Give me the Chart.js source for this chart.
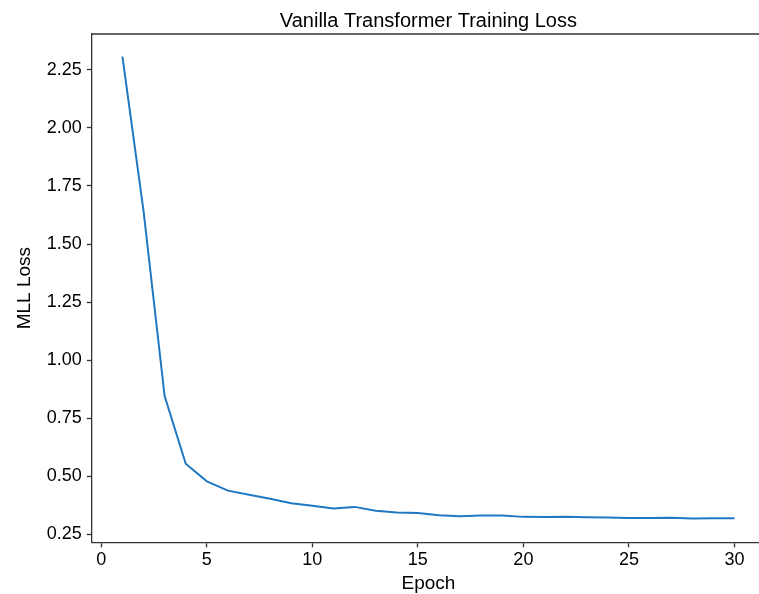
<!DOCTYPE html>
<html lang="en">
  <head>
    <meta charset="UTF-8" />
    <title>Vanilla Transformer Training Loss</title>
    <script src="https://cdn.jsdelivr.net/npm/chart.js"></script>
    <style>
      html, body { margin: 0; padding: 0; background: #fff; overflow: hidden; }
      #wrap { width: 765px; height: 594px; }
    </style>
  </head>
  <body>
    <div id="wrap"><canvas id="lossChart"></canvas></div>

    <script>
      // data
      const epochs = [1, 2, 3, 4, 5, 6, 7, 8, 9, 10, 11, 12, 13, 14, 15,
        16, 17, 18, 19, 20, 21, 22, 23, 24, 25, 26, 27, 28, 29, 30];
      const loss = [2.307, 1.643, 0.845, 0.554, 0.478, 0.438, 0.420, 0.403, 0.384, 0.373,
        0.361, 0.368, 0.351, 0.344, 0.342, 0.332, 0.328, 0.331, 0.331, 0.325,
        0.324, 0.325, 0.323, 0.322, 0.320, 0.320, 0.321, 0.318, 0.319, 0.319];
      const xTicks = [0, 5, 10, 15, 20, 25, 30];
      const yTicks = [0.25, 0.5, 0.75, 1.0, 1.25, 1.5, 1.75, 2.0, 2.25];

      const FONT = "'Liberation Sans', Arial, sans-serif";
      const AXIS = '#333333';

      // title centred over the plot box, plus the top spine
      const frame = {
        id: 'frame',
        afterDraw(chart) {
          const { ctx, chartArea } = chart;
          ctx.save();
          ctx.strokeStyle = AXIS;
          ctx.lineWidth = 1.3;
          ctx.beginPath();
          ctx.moveTo(chartArea.left, chartArea.top);
          ctx.lineTo(chartArea.right, chartArea.top);
          ctx.stroke();
          ctx.fillStyle = '#000';
          ctx.font = '20px ' + FONT;
          ctx.textAlign = 'center';
          ctx.textBaseline = 'alphabetic';
          ctx.fillText('Vanilla Transformer Training Loss',
            (chartArea.left + chartArea.right) / 2, 27);
          ctx.restore();
        },
      };

      const ctx = document.getElementById('lossChart').getContext('2d');
      const lossChart = new Chart(ctx, {
        type: 'line',
        data: {
          datasets: [
            {
              label: 'Loss',
              data: epochs.map((e, i) => ({ x: e, y: loss[i] })),
              borderColor: '#1f78c1',
              borderWidth: 2,
              pointRadius: 0,
              tension: 0,
              fill: false,
            },
          ],
        },
        options: {
          responsive: true,
          maintainAspectRatio: false,
          animation: false,
          layout: { padding: { top: 34, left: 3, right: 0, bottom: 0 } },
          plugins: {
            legend: { display: false },
            tooltip: { enabled: false },
          },
          scales: {
            x: {
              type: 'linear',
              min: -0.45,
              max: 31.45,
              afterBuildTicks: (axis) => { axis.ticks = xTicks.map((v) => ({ value: v })); },
              grid: { drawOnChartArea: false, drawTicks: true, tickLength: 5, color: AXIS, tickWidth: 1.3 },
              border: { display: true, color: AXIS, width: 1.3 },
              ticks: { color: '#000', font: { family: FONT, size: 18, lineHeight: 1.1 }, padding: 3, maxRotation: 0 },
              title: { display: true, text: 'Epoch', color: '#000', font: { family: FONT, size: 19, lineHeight: 1.1 }, padding: { top: 0, bottom: 0 } },
            },
            y: {
              min: 0.2155,
              max: 2.4045,
              afterBuildTicks: (axis) => { axis.ticks = yTicks.map((v) => ({ value: v })); },
              grid: { drawOnChartArea: false, drawTicks: true, tickLength: 5, color: AXIS, tickWidth: 1.3 },
              border: { display: true, color: AXIS, width: 1.3 },
              ticks: {
                color: '#000',
                font: { family: FONT, size: 18 },
                padding: 5,
                callback: (v) => Number(v).toFixed(2),
              },
              title: { display: true, text: 'MLL Loss', color: '#000', font: { family: FONT, size: 19 }, padding: { top: 10, bottom: 6 } },
            },
          },
        },
        plugins: [frame],
      });
    </script>
  </body>
</html>
